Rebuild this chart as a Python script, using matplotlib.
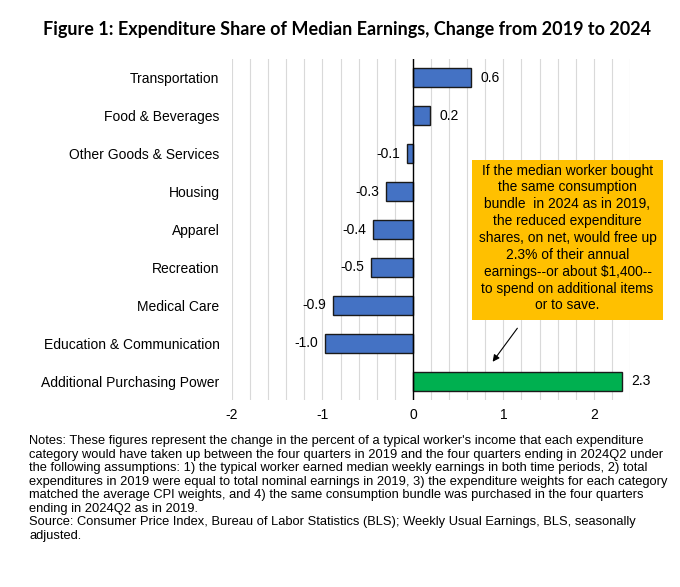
import matplotlib
matplotlib.use('Agg')
import matplotlib.pyplot as plt
import numpy as np
from matplotlib.patches import Rectangle

categories = ['Transportation', 'Food & Beverages', 'Other Goods & Services', 'Housing',
              'Apparel', 'Recreation', 'Medical Care', 'Education & Communication',
              'Additional Purchasing Power']
values = [0.64, 0.19, -0.06, -0.30, -0.44, -0.46, -0.88, -0.97, 2.31]
value_labels = ['0.6', '0.2', '-0.1', '-0.3', '-0.4', '-0.5', '-0.9', '-1.0', '2.3']
xticks = [-2, -1, 0, 1, 2]

title = 'Figure 1: Expenditure Share of Median Earnings, Change from 2019 to 2024'
box_text = ('If the median worker bought\nthe same consumption\nbundle  in 2024 as in 2019,\n'
            'the reduced expenditure\nshares, on net, would free up\n2.3% of their annual\n'
            'earnings--or about $1,400--\nto spend on additional items\nor to save.')
notes = ("Notes: These figures represent the change in the percent of a typical worker's income that each expenditure\n"
         "category would have taken up between the four quarters in 2019 and the four quarters ending in 2024Q2 under\n"
         "the following assumptions: 1) the typical worker earned median weekly earnings in both time periods, 2) total\n"
         "expenditures in 2019 were equal to total nominal earnings in 2019, 3) the expenditure weights for each category\n"
         "matched the average CPI weights, and 4) the same consumption bundle was purchased in the four quarters\n"
         "ending in 2024Q2 as in 2019.\n"
         "Source: Consumer Price Index, Bureau of Labor Statistics (BLS); Weekly Usual Earnings, BLS, seasonally\n"
         "adjusted.")

plt.rcParams['font.family'] = ['Liberation Sans', 'DejaVu Sans']

fig = plt.figure(figsize=(6.8, 5.87), dpi=100)
ax = fig.add_axes([232/680, 1-400/587, (630-232)/680, (400-59)/587])

y = np.arange(len(categories))
colors = ['#4472C4'] * (len(categories) - 1) + ['#00B050']
ax.barh(y, values, height=0.5, color=colors, edgecolor='#1a1a1a', linewidth=1.0, zorder=3)

for yi, v, lab in zip(y, values, value_labels):
    if v >= 0:
        ax.annotate(lab, (v, yi), xytext=(7, 0), textcoords='offset points',
                    ha='left', va='center', fontsize=10)
    else:
        ax.annotate(lab, (v, yi), xytext=(-5, 0), textcoords='offset points',
                    ha='right', va='center', fontsize=10)

ax.set_xlim(-2, 2.4)
ax.set_ylim(len(categories) - 0.5, -0.5)
ax.set_yticks(y)
ax.set_yticklabels(categories, fontsize=10)
ax.set_xticks(xticks)
ax.set_xticklabels([str(t) for t in xticks], fontsize=10)
ax.set_xticks(np.arange(-2, 2.41, 0.2), minor=True)
ax.grid(axis='x', which='both', color='#d9d9d9', linewidth=0.8, zorder=0)
ax.tick_params(axis='both', which='both', length=0)
ax.tick_params(axis='x', pad=6)
ax.tick_params(axis='y', pad=9)
for s in ax.spines.values():
    s.set_visible(False)
ax.axvline(0, color='black', linewidth=1.0, zorder=4)

fig.text(347/680, 1-29/587, title, ha='center', va='center', fontsize=13,
         fontweight='bold', family='Lato')

# callout box
fig.patches.append(Rectangle((472/680, 1-320/587), (663-472)/680, (320-160)/587,
                             transform=fig.transFigure, facecolor='#FFC000',
                             edgecolor='none', zorder=5))
fig.text(567.5/680, 1-238/587, box_text, ha='center', va='center', fontsize=9.9,
         linespacing=1.26, zorder=6)
ax.annotate('', xy=(491/680, 1-364/587), xycoords='figure fraction',
            xytext=(519/680, 1-326/587), textcoords='figure fraction',
            arrowprops=dict(arrowstyle='-|>', color='black', linewidth=0.8, mutation_scale=10))

fig.text(29/680, 1-435/587, notes, ha='left', va='top', fontsize=9.3, linespacing=1.17)

fig.savefig('out.png', dpi=100)
